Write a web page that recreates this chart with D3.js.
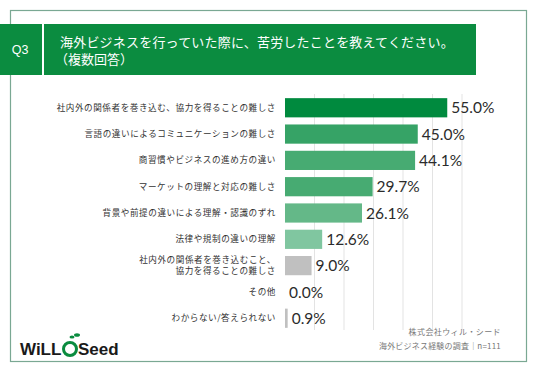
<!DOCTYPE html>
<html>
<head>
<meta charset="utf-8">
<script src="https://cdn.jsdelivr.net/npm/d3@7"></script>
<style>
  body { margin: 0; background: #fff; }
  text { font-family: "Noto Sans CJK JP", "Noto Sans", sans-serif; }
</style>
</head>
<body>
<svg id="chart" width="536" height="371"></svg>
<script>
// data
var categories = [
  ["社内外の関係者を巻き込む、協力を得ることの難しさ"],
  ["言語の違いによるコミュニケーションの難しさ"],
  ["商習慣やビジネスの進め方の違い"],
  ["マーケットの理解と対応の難しさ"],
  ["背景や前提の違いによる理解・認識のずれ"],
  ["法律や規制の違いの理解"],
  ["社内外の関係者を巻き込むこと、", "協力を得ることの難しさ"],
  ["その他"],
  ["わからない/答えられない"]
];
var values = [55.0, 45.0, 44.1, 29.7, 26.1, 12.6, 9.0, 0.0, 0.9];
var barColors = ["#008a3e", "#36a366", "#47ab72", "#47ab72", "#64b888", "#80c6a0", "#c0c0c0", "#c0c0c0", "#c0c0c0"];
var gridTicks = [10, 20, 30, 40, 50, 60];

var svg = d3.select("#chart");
var green = "#0b8c40";

// frame
svg.append("rect")
  .attr("x", 10.5).attr("y", 10.5)
  .attr("width", 516).attr("height", 351)
  .attr("fill", "none")
  .attr("stroke", "#7aa893")
  .attr("stroke-width", 1.2);

// header boxes
svg.append("rect").attr("x", 0).attr("y", 24).attr("width", 42).attr("height", 51).attr("fill", green);
svg.append("text").attr("x", 20).attr("y", 54)
  .attr("text-anchor", "middle")
  .attr("fill", "#fff").attr("font-size", 12.5)
  .style("font-family", "Liberation Sans, Arial, sans-serif")
  .text("Q3");
svg.append("rect").attr("x", 44).attr("y", 24).attr("width", 432).attr("height", 51).attr("fill", green);
svg.append("text").attr("x", 60).attr("y", 47)
  .attr("fill", "#fff").attr("font-size", 13)
  .attr("letter-spacing", 0.2)
  .text("海外ビジネスを行っていた際に、苦労したことを教えてください。");
svg.append("text").attr("x", 55).attr("y", 64)
  .attr("fill", "#fff").attr("font-size", 13)
  .text("（複数回答）");

// scales
var x = d3.scaleLinear().domain([0, 60]).range([285, 462]);
var y = d3.scaleBand().domain(d3.range(values.length)).range([95, 331]).paddingInner(0.27).paddingOuter(0.12);

// grid
svg.append("g")
  .selectAll("line")
  .data(gridTicks)
  .enter()
  .append("line")
  .attr("x1", function(d) { return x(d); })
  .attr("x2", function(d) { return x(d); })
  .attr("y1", 94).attr("y2", 330)
  .attr("stroke", "#e3e3e3")
  .attr("stroke-width", 1);

// bars
svg.append("g")
  .selectAll("rect")
  .data(values)
  .enter()
  .append("rect")
  .attr("x", x(0))
  .attr("y", function(d, i) { return y(i); })
  .attr("width", function(d) { return x(d) - x(0); })
  .attr("height", y.bandwidth())
  .attr("fill", function(d, i) { return barColors[i]; });

// value labels
svg.append("g")
  .selectAll("text")
  .data(values)
  .enter()
  .append("text")
  .attr("x", function(d) { return x(d) + 4; })
  .attr("y", function(d, i) { return y(i) + y.bandwidth() / 2; })
  .attr("dy", "0.36em")
  .attr("fill", "#2b2b2b")
  .attr("font-size", 15.5)
  .style("font-family", "Lato, sans-serif")
  .text(function(d) { return d.toFixed(1) + "%"; });

// category labels
var cat = svg.append("g")
  .selectAll("text")
  .data(categories)
  .enter()
  .append("text")
  .attr("text-anchor", "end")
  .attr("fill", "#333")
  .attr("font-size", 8.6)
  .attr("letter-spacing", 0.55)
  .attr("y", function(d, i) { return y(i) + y.bandwidth() / 2; });

cat.selectAll("tspan")
  .data(function(d) { return d; })
  .enter()
  .append("tspan")
  .attr("x", 276)
  .attr("dy", function(d, j, nodes) {
    var n = nodes.length;
    if (j === 0) return (0.36 - (n - 1) * 0.62) + "em";
    return "1.24em";
  })
  .text(function(d) { return d; });

// footer
svg.append("text").attr("x", 501).attr("y", 335)
  .attr("text-anchor", "end").attr("fill", "#777").attr("font-size", 8)
  .attr("letter-spacing", 0.4)
  .text("株式会社ウィル・シード");
svg.append("text").attr("x", 501).attr("y", 349)
  .attr("text-anchor", "end").attr("fill", "#777").attr("font-size", 8)
  .attr("letter-spacing", 0.2)
  .text("海外ビジネス経験の調査｜n=111");

// logo
var logo = svg.append("g");
logo.append("text").attr("x", 20).attr("y", 355)
  .attr("fill", "#1a1a1a").attr("font-size", 17).attr("font-weight", "bold")
  .style("font-family", "Liberation Sans, Arial, sans-serif")
  .text("WiLL");
logo.append("circle").attr("cx", 70).attr("cy", 349).attr("r", 6.5)
  .attr("fill", "none").attr("stroke", "#0a8c3f").attr("stroke-width", 3);
logo.append("ellipse").attr("cx", 72).attr("cy", 337).attr("rx", 2.5).attr("ry", 1.6).attr("fill", "#0a8c3f");
logo.append("ellipse").attr("cx", 77).attr("cy", 335).attr("rx", 3).attr("ry", 1.8).attr("fill", "#0a8c3f");
logo.append("text").attr("x", 78).attr("y", 355)
  .attr("fill", "#1a1a1a").attr("font-size", 17).attr("font-weight", "bold")
  .style("font-family", "Liberation Sans, Arial, sans-serif")
  .text("Seed");
</script>
</body>
</html>
